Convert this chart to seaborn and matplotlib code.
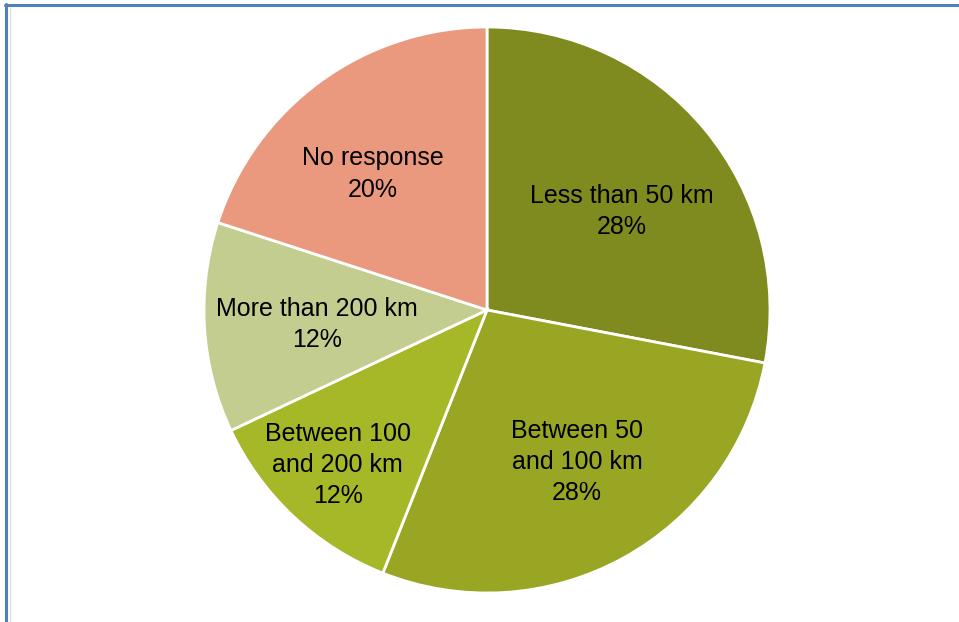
import matplotlib
matplotlib.use("Agg")
import matplotlib.pyplot as plt
import seaborn as sns
import numpy as np
from matplotlib.lines import Line2D

categories = ["Less than 50 km", "Between 50\nand 100 km", "Between 100\nand 200 km",
              "More than 200 km", "No response"]
values = [28, 28, 12, 12, 20]
colors = ["#7F8A1F", "#98A623", "#A6B728", "#C3CD8F", "#EA987E"]
# label placement (radius fraction, angle in degrees)
label_radius = [0.59, 0.624, 0.76, 0.603, 0.627]
label_angle = [36.0, -59.4, -133.9, 185.0, 130.0]

sns.set_theme(style="white")
plt.rcParams["font.family"] = ["Liberation Sans", "DejaVu Sans"]

W, H = 959, 622
fig = plt.figure(figsize=(W / 100, H / 100), dpi=100)
fig.patch.set_facecolor("white")

cx, cy, r = 487, 310, 283
ax = fig.add_axes([(cx - r) / W, (H - cy - r) / H, 2 * r / W, 2 * r / H])
wedges, _ = ax.pie(values, colors=colors, startangle=90, counterclock=False,
                   radius=1.0, wedgeprops=dict(edgecolor="white", linewidth=2))
ax.set_xlim(-1, 1)
ax.set_ylim(-1, 1)
ax.set_aspect("equal")
ax.axis("off")

total = sum(values)
for cat, v, lr, la in zip(categories, values, label_radius, label_angle):
    ang = np.deg2rad(la)
    ax.text(lr * np.cos(ang), lr * np.sin(ang), f"{cat}\n{round(100 * v / total)}%",
            ha="center", va="center", fontsize=18, color="black", linespacing=1.38)

# frame border
fig.add_artist(Line2D([5 / W, 1], [1 - 5 / H, 1 - 5 / H], transform=fig.transFigure,
                      color="#4F81BD", linewidth=2.2))
fig.add_artist(Line2D([6 / W, 6 / W], [0, 1 - 4 / H], transform=fig.transFigure,
                      color="#4F81BD", linewidth=2.2))
fig.add_artist(Line2D([9.5 / W, 9.5 / W], [0, 1 - 7 / H], transform=fig.transFigure,
                      color="#E0E0E0", linewidth=1.0))

fig.savefig("out.png", dpi=100)
